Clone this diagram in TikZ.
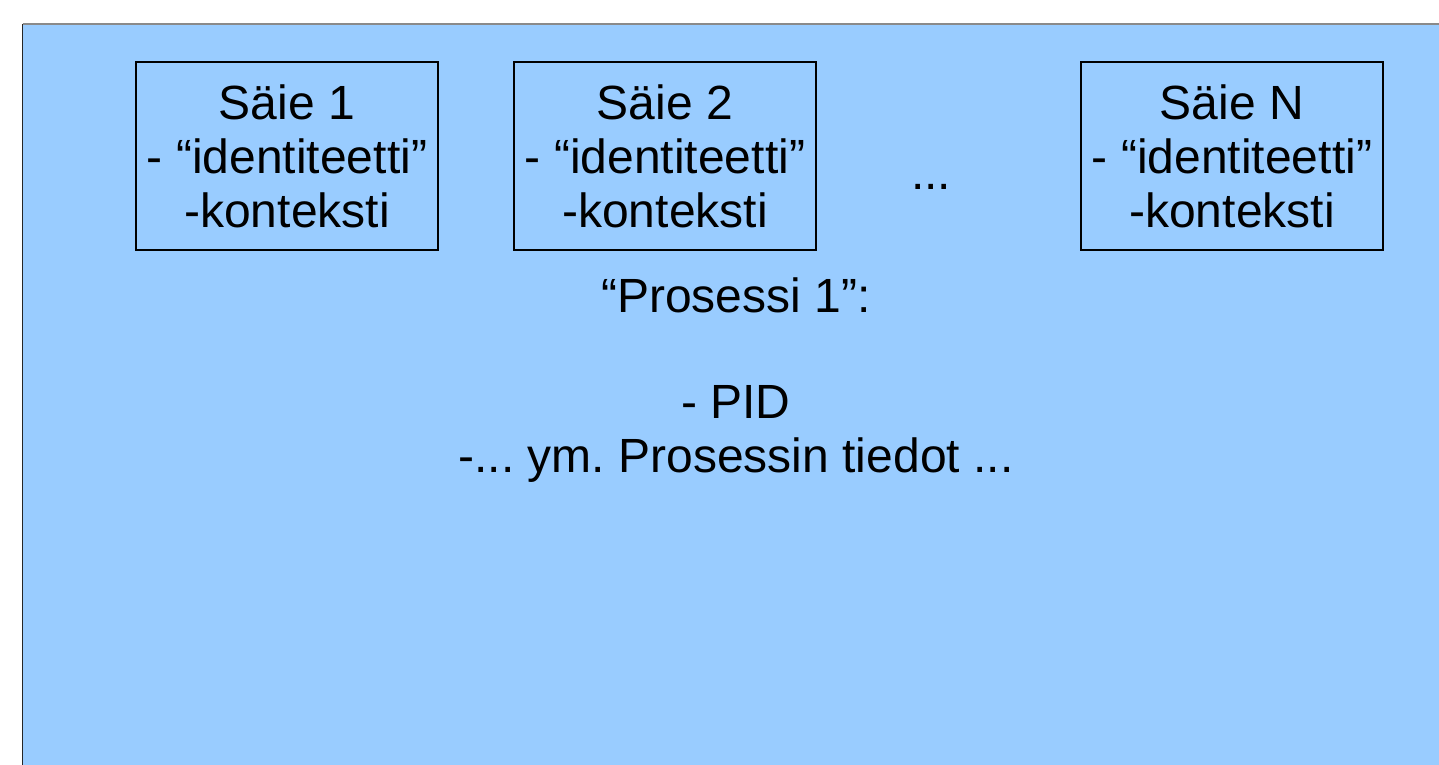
\documentclass[tikz,border=0pt]{standalone}
\usepackage{fontspec}
\setmainfont{Liberation Sans}
\frenchspacing
\definecolor{bgblue}{HTML}{99CCFF}
\definecolor{topgray}{HTML}{8A8A8A}
\tikzset{
  big/.style={font=\fontsize{48}{54}\selectfont, inner sep=0pt},
  thread/.style={big, draw=black, line width=1.2pt, minimum width=302pt, minimum height=188pt, align=center},
  plain/.style={big, anchor=base}
}
\begin{document}
\begin{tikzpicture}[x=1pt,y=-1pt]
\useasboundingbox (0,0) rectangle (1439,764);
\fill[white] (0,0) rectangle (1439,764);
\fill[bgblue] (22.5,24) rectangle (1445,770);
\draw[topgray, line width=1.5pt] (22.5,24) -- (1445,24);
\draw[black!85, line width=1.5pt] (22.5,24) -- (22.5,770);
\node[thread] (s1) at (287,156) {Säie 1\\- “identiteetti”\\-konteksti};
\node[thread] (s2) at (665,156) {Säie 2\\- “identiteetti”\\-konteksti};
\node[thread] (sn) at (1232,156) {Säie N\\- “identiteetti”\\-konteksti};
\node[plain] (dots) at (931,189) {...};
\node[plain] (proc) at (736,312) {“Prosessi 1”:};
\node[plain] (pid) at (736,418) {- PID};
\node[plain] (info) at (736,472) {-... ym. Prosessin tiedot ...};
\end{tikzpicture}
\end{document}
